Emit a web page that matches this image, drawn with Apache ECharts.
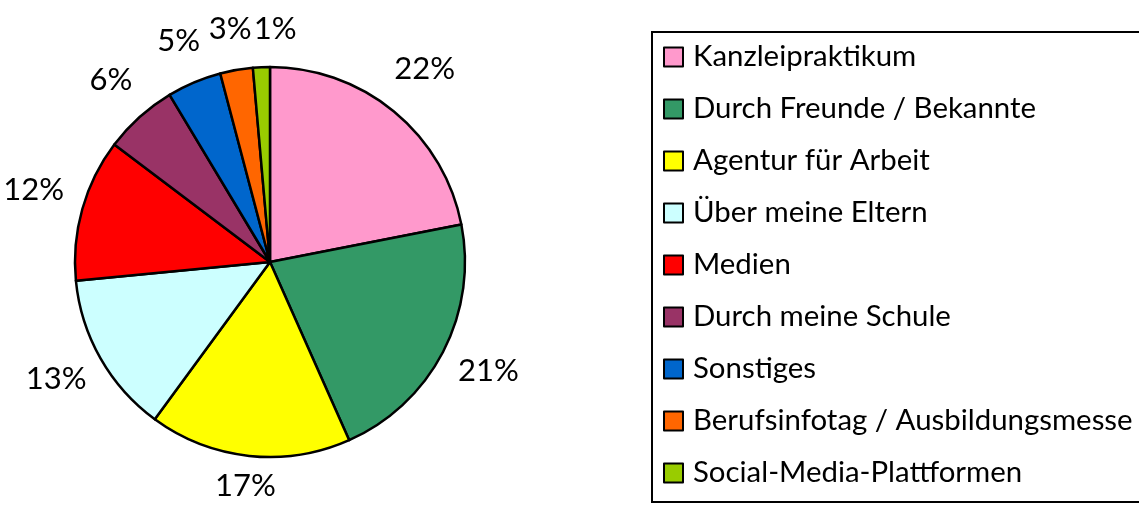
<!DOCTYPE html>
<html>
<head>
<meta charset="utf-8">
<script src="https://cdn.jsdelivr.net/npm/echarts@6/dist/echarts.min.js"></script>
<style>
  html, body { margin: 0; padding: 0; background: #fff; }
  #chart { width: 1139px; height: 508px; }
</style>
</head>
<body>
<div id="chart"></div>
<script>
// Antworten (Anteile in %), im Uhrzeigersinn ab 12 Uhr
var categories = [
  "Kanzleipraktikum",
  "Durch Freunde / Bekannte",
  "Agentur für Arbeit",
  "Über meine Eltern",
  "Medien",
  "Durch meine Schule",
  "Sonstiges",
  "Berufsinfotag / Ausbildungsmesse",
  "Social-Media-Plattformen"
];
var shares = [21.9, 21.4, 16.7, 13.4, 11.8, 6.1, 4.5, 2.7, 1.4];
var colors = ["#FF99CC", "#339966", "#FFFF00", "#CCFFFF", "#FF0000", "#993366", "#0066CC", "#FF6600", "#99CC00"];

var pieData = categories.map(function (name, i) {
  return { name: name, value: shares[i] };
});

var font = "Lato";
var center = [270, 262];
var radius = 195;
var labelGap = 17;

// Excel-artige Platzierung: Label knapp außerhalb des Kreises, Überlappung seitlich auflösen
var prevRect = null;
function placeLabel(p) {
  var r = p.labelRect;
  if (p.dataIndex === 0) prevRect = null;
  var cx = r.x + r.width / 2, cy = r.y + r.height / 2;
  var vx = cx - center[0], vy = cy - center[1];
  var len = Math.sqrt(vx * vx + vy * vy);
  var ux = vx / len, uy = vy / len;
  var want = radius + labelGap + Math.abs(ux) * r.width / 2 + Math.abs(uy) * r.height / 2;
  var dx = ux * (want - len), dy = uy * (want - len) - 5;
  var box = { x: r.x + dx, y: r.y + dy, width: r.width, height: r.height };
  if (prevRect &&
      box.x < prevRect.x + prevRect.width && box.x + box.width > prevRect.x &&
      box.y < prevRect.y + prevRect.height && box.y + box.height > prevRect.y) {
    var shift;
    if (box.x + box.width / 2 >= prevRect.x + prevRect.width / 2) {
      shift = prevRect.x + prevRect.width + 2 - box.x;
    } else {
      shift = prevRect.x - 2 - (box.x + box.width);
    }
    dx += shift;
    box.x += shift;
  }
  prevRect = box;
  return { dx: dx, dy: dy };
}

var chart = echarts.init(document.getElementById("chart"));
chart.setOption({
  backgroundColor: "#fff",
  animation: false,
  color: colors,
  legend: {
    orient: "vertical",
    left: 652,
    top: 32,
    padding: [10, 60, 14, 11],
    borderColor: "#000",
    borderWidth: 2,
    itemWidth: 19,
    itemHeight: 19,
    itemGap: 22,
    icon: "rect",
    selectedMode: false,
    data: categories,
    textStyle: {
      fontFamily: font,
      fontSize: 29.4,
      lineHeight: 30,
      color: "#000",
      padding: [0, 0, 0, 5]
    }
  },
  series: [
    {
      // the pie itself
      type: "pie",
      center: center,
      radius: radius,
      startAngle: 90,
      clockwise: true,
      silent: true,
      itemStyle: { borderColor: "#000", borderWidth: 2.5 },
      label: { show: false },
      labelLine: { show: false },
      data: pieData
    },
    {
      // invisible ring that carries the percentage labels
      type: "pie",
      center: center,
      radius: [225, 255],
      startAngle: 90,
      clockwise: true,
      silent: true,
      itemStyle: { color: "rgba(0,0,0,0)", borderWidth: 0 },
      label: {
        show: true,
        position: "inside",
        fontFamily: font,
        fontSize: 31,
        color: "#000",
        formatter: function (p) {
          return Math.round(p.value) + "%";
        }
      },
      labelLine: { show: false },
      labelLayout: placeLabel,
      data: pieData
    }
  ]
});
</script>
</body>
</html>
